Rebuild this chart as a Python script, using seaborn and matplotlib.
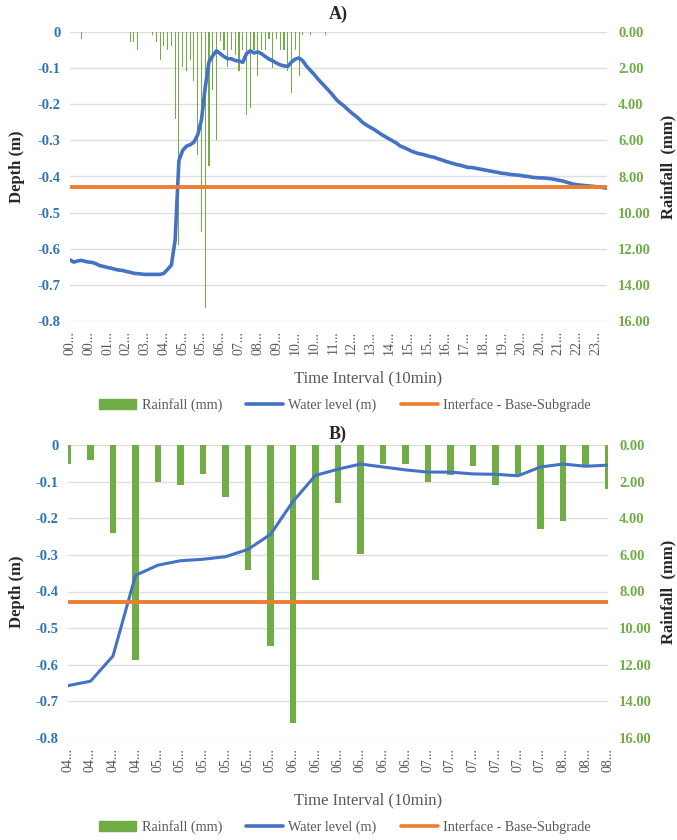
import numpy as np
import seaborn as sns
import matplotlib.pyplot as plt
from matplotlib.patches import Patch
from matplotlib.lines import Line2D

sns.set_theme(style="white")
plt.rcParams["font.family"] = ["Liberation Serif", "DejaVu Serif"]

# ---- A) whole day, 10 min steps (144 intervals), tick label every 5th
hours_a = ["00", "00", "01", "02", "03", "04", "05", "05", "06", "07", "08", "09", "10", "10", "11",
           "12", "13", "14", "15", "15", "16", "17", "18", "19", "20", "20", "21", "22", "23"]
rain_a = [0, 0, 0, 0.39, 0, 0, 0, 0, 0, 0, 0, 0,
          0, 0, 0, 0, 0.57, 0.57, 0.98, 0, 0, 0, 0.19, 0.57,
          1.57, 0.80, 0.98, 0.80, 4.81, 11.79, 1.96, 2.18, 1.57, 2.74, 6.81, 11.05,
          15.27, 7.41, 3.20, 5.98, 0.52, 0.98, 1.96, 0.98, 1.26, 2.18, 0.98, 4.59,
          4.22, 0.98, 2.41, 0.98, 0.98, 0.39, 2.00, 0.39, 0.98, 0.98, 2.18, 3.39,
          0.98, 2.41, 0.19, 0, 0.19, 0, 0, 0, 0.19, 0, 0, 0,
          0, 0, 0, 0, 0, 0, 0, 0, 0, 0, 0, 0,
          0, 0, 0, 0, 0, 0, 0, 0, 0, 0, 0, 0,
          0, 0, 0, 0, 0, 0, 0, 0, 0, 0, 0, 0,
          0, 0, 0, 0, 0, 0, 0, 0, 0, 0, 0, 0,
          0, 0, 0, 0, 0, 0, 0, 0, 0, 0, 0, 0,
          0, 0, 0, 0, 0, 0, 0, 0, 0, 0, 0, 0]
water_a = [-0.631, -0.637, -0.634, -0.632, -0.635, -0.637, -0.638, -0.642, -0.647, -0.649, -0.652, -0.654,
           -0.657, -0.659, -0.660, -0.663, -0.665, -0.668, -0.669, -0.670, -0.671, -0.671, -0.671, -0.671,
           -0.671, -0.668, -0.657, -0.645, -0.576, -0.356, -0.328, -0.316, -0.312, -0.305, -0.285, -0.244,
           -0.154, -0.083, -0.066, -0.052, -0.060, -0.068, -0.074, -0.074, -0.079, -0.080, -0.084, -0.060,
           -0.052, -0.058, -0.055, -0.060, -0.068, -0.075, -0.080, -0.086, -0.091, -0.094, -0.095, -0.083,
           -0.075, -0.072, -0.080, -0.095, -0.106, -0.117, -0.130, -0.141, -0.152, -0.163, -0.175, -0.188,
           -0.197, -0.205, -0.215, -0.224, -0.232, -0.241, -0.251, -0.258, -0.264, -0.270, -0.277, -0.284,
           -0.290, -0.296, -0.302, -0.308, -0.316, -0.320, -0.325, -0.330, -0.334, -0.337, -0.339, -0.342,
           -0.345, -0.347, -0.351, -0.354, -0.358, -0.361, -0.364, -0.367, -0.369, -0.372, -0.375, -0.375,
           -0.377, -0.379, -0.381, -0.383, -0.385, -0.387, -0.389, -0.391, -0.392, -0.394, -0.395, -0.396,
           -0.397, -0.399, -0.400, -0.402, -0.403, -0.404, -0.404, -0.405, -0.406, -0.408, -0.410, -0.412,
           -0.415, -0.418, -0.421, -0.423, -0.424, -0.425, -0.426, -0.427, -0.428, -0.429, -0.431, -0.432]

# ---- B) storm window 04:20 - 08:20
hours_b = ["04"] * 4 + ["05"] * 6 + ["06"] * 6 + ["07"] * 6 + ["08"] * 3
rain_b = [1.03, 0.83, 4.82, 11.76, 2.02, 2.19, 1.59, 2.84, 6.81, 10.96, 15.18, 7.39, 3.15,
          5.95, 1.03, 1.03, 2.02, 1.62, 1.17, 2.19, 1.62, 4.61, 4.17, 1.08, 2.38]
water_b = [-0.657, -0.645, -0.576, -0.356, -0.328, -0.316, -0.312, -0.305, -0.285, -0.244, -0.154, -0.083, -0.066,
           -0.052, -0.060, -0.068, -0.074, -0.074, -0.079, -0.080, -0.084, -0.060, -0.052, -0.058, -0.055]

interface = -0.43

BLUE = "#4472c4"
ORANGE = "#ed7d31"
GREEN = "#70ad47"
TICK_BLUE = "#2e75b6"
GRAY = "#595959"
W, H = 677, 840

fig = plt.figure(figsize=(W / 100, H / 100), dpi=100)


def panel(box, rain, water, hours, step, bar_w, lw, title, ty, ly, label_y):
    left, top, right, bottom = box
    ax = fig.add_axes([left / W, 1 - bottom / H, (right - left) / W, (bottom - top) / H])
    ax2 = ax.twinx()
    idx = np.arange(len(water))

    sns.barplot(x=idx, y=rain, ax=ax2, color=GREEN, width=bar_w, saturation=1, linewidth=0)
    sns.lineplot(x=idx, y=water, ax=ax, color=BLUE, linewidth=lw)
    ax.axhline(interface, color=ORANGE, linewidth=2.8)

    # lines above the bars
    ax.set_zorder(ax2.get_zorder() + 1)
    ax.patch.set_visible(False)

    ax.set_xlim(0, len(water) - 1)
    ax.set_ylim(-0.8, 0)
    ax2.set_ylim(16, 0)
    ax.set_xticks(idx[::step])
    ax.set_xticklabels([h + "..." for h in hours], rotation=90, color=GRAY, fontsize=10)
    ax.set_yticks(np.arange(-8, 1) / 10)
    ax.set_yticklabels(["%g" % (v / 10) for v in range(-8, 1)], color=TICK_BLUE,
                       fontsize=10.5, fontweight="bold")
    ax2.set_yticks(range(0, 17, 2))
    ax2.set_yticklabels(["%.2f" % v for v in range(0, 17, 2)], color=GREEN,
                        fontsize=10.5, fontweight="bold")
    ax.set_xlabel("")
    ax.set_ylabel("")
    ax2.set_ylabel("")
    ax.grid(False)
    ax2.grid(False)
    ax2.yaxis.grid(True, color="#dedede", linewidth=1)
    ax.tick_params(axis="both", length=0)
    ax.tick_params(axis="y", pad=7)
    ax.tick_params(axis="x", pad=7)
    ax2.tick_params(axis="y", length=0, pad=8)
    for a in (ax, ax2):
        for s in a.spines.values():
            s.set_visible(False)

    fig.text(338 / W, 1 - ty / H, title, ha="center", va="center", fontsize=13, fontweight="bold")
    fig.text(368 / W, 1 - ly / H, "Time Interval (10min)", ha="center", va="center",
             fontsize=12, color=GRAY)
    fig.text(17 / W, 1 - label_y / H, "Depth (m)", rotation=90, ha="center", va="center",
             fontsize=12, fontweight="bold", color="#262626")
    fig.text(668 / W, 1 - label_y / H, "Rainfall  (mm)", rotation=90, ha="center", va="center",
             fontsize=12, fontweight="bold", color="#262626")


panel((70, 32, 607, 321), rain_a, water_a, hours_a, 5, 0.3, 2.6, "A)", 14, 378, 167)
panel((68, 445, 608, 738), rain_b, water_b, hours_b, 1, 0.27, 2.2, "B)", 434, 800, 592)

handles = [Patch(color=GREEN), Line2D([], [], color=BLUE, lw=2.6), Line2D([], [], color=ORANGE, lw=2.6)]
names = ["Rainfall (mm)", "Water level (m)", "Interface - Base-Subgrade"]
for ly in (405, 827):
    fig.legend(handles, names, loc="center", bbox_to_anchor=(345 / W, 1 - ly / H), ncol=3,
               frameon=False, fontsize=10.2, labelcolor=GRAY, handlelength=2.6,
               columnspacing=1.7, handletextpad=0.4)

fig.savefig("out.png", dpi=100)
